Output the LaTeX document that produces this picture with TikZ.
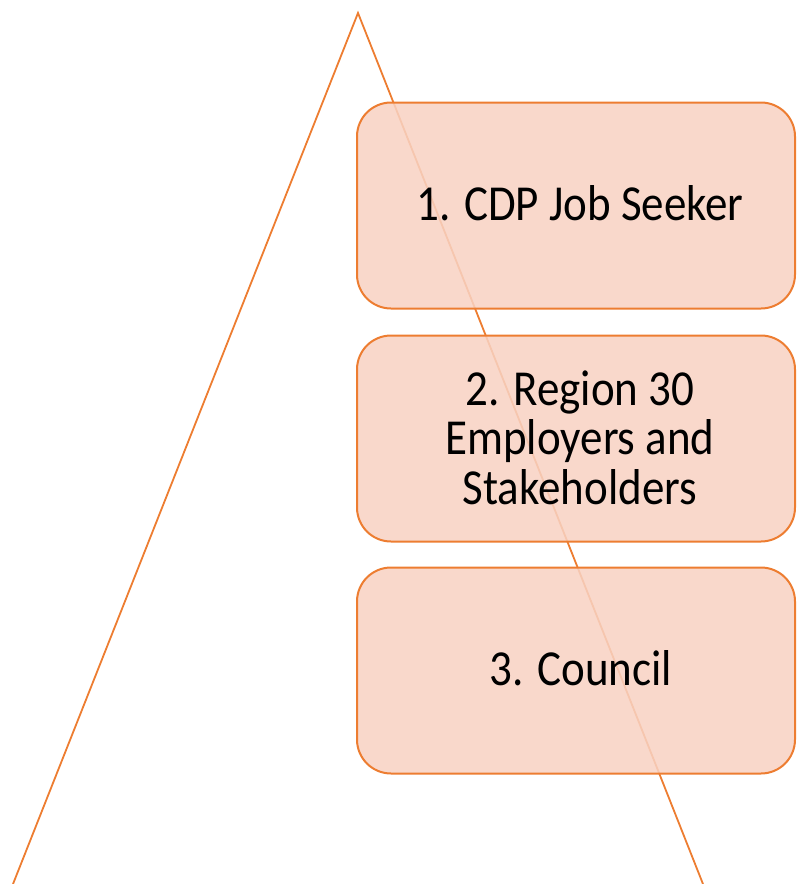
\documentclass[tikz,border=0pt]{standalone}
\usepackage{fontspec}
\setmainfont{Carlito}
\definecolor{edgeor}{HTML}{ED7D31}
\definecolor{boxfill}{HTML}{F8D2C3}
\newcommand{\tallstage}[1]{\scalebox{1}[1.12]{\begin{tabular}{@{}c@{}}#1\end{tabular}}}
\tikzset{
  tri/.style={draw=edgeor, line width=1.8pt},
  stage/.style={draw=edgeor, line width=2pt, fill=boxfill, fill opacity=0.86, text opacity=1,
    rounded corners=34pt, minimum width=438pt, minimum height=206pt, align=center,
    font=\fontsize{45}{44}\selectfont, text=black, inner sep=0pt},
  stagetext/.style={font=\fontsize{45}{43}\selectfont, inner sep=0pt}
}
\begin{document}
\begin{tikzpicture}[x=1pt,y=-1pt]
\useasboundingbox (0,0) rectangle (797,884);
\coordinate (apex) at (358,13);
\coordinate (bl) at (13,884);
\coordinate (br) at (703,884);
\draw[tri] (bl) -- (apex) -- (br);
\node[stage] (s1) at (576,205.5) {};
\node[stage] (s2) at (576,438.5) {};
\node[stage] (s3) at (576,670.5) {};
\node[stagetext] (t1) at ([xshift=4pt,yshift=-5pt]s1.center) {\tallstage{1. CDP Job Seeker}};
\node[stagetext] (t2) at ([xshift=4pt,yshift=-6pt]s2.center) {\tallstage{2. Region 30\\Employers and\\Stakeholders}};
\node[stagetext] (t3) at ([xshift=5pt,yshift=-5pt]s3.center) {\tallstage{3. Council}};
\end{tikzpicture}
\end{document}
